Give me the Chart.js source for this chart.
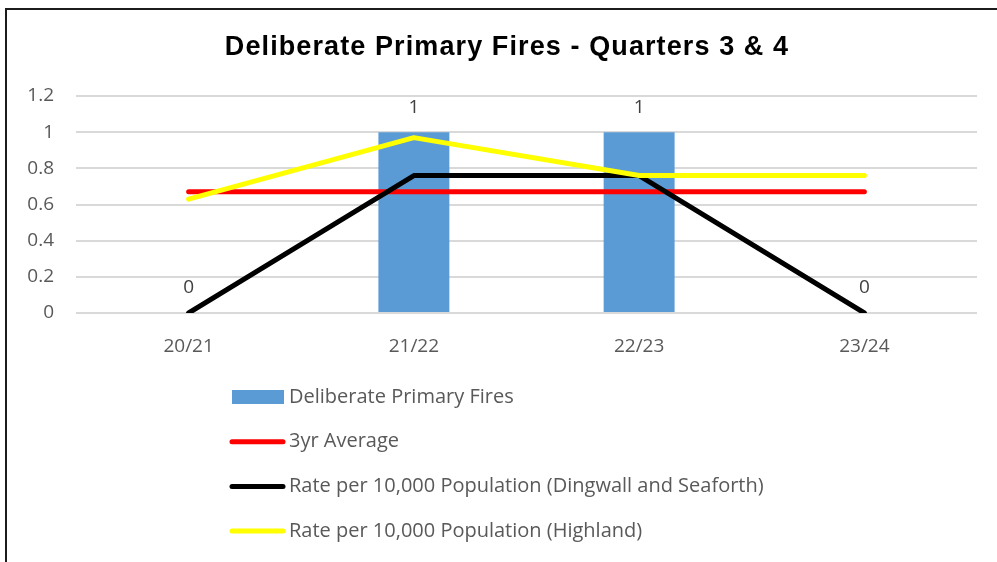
<!DOCTYPE html>
<html>
<head>
<meta charset="utf-8">
<title>Deliberate Primary Fires - Quarters 3 & 4</title>
<script src="https://cdn.jsdelivr.net/npm/chart.js@4/dist/chart.umd.min.js"></script>
<style>
    html, body { margin: 0; padding: 0; background: #fff; }
    #wrap { position: relative; width: 997px; height: 562px; overflow: hidden; }
    #frame { position: absolute; left: 5px; top: 8px; right: -10px; bottom: -10px; border-top: 2px solid #1c1c1c; border-left: 2px solid #1c1c1c; }
    canvas { position: absolute; left: 0; top: 0; }
</style>
</head>
<body>
<div id="wrap">
    <canvas id="chart" width="997" height="562"></canvas>
    <div id="frame"></div>
</div>
<script>
const titleText = 'Deliberate Primary Fires - Quarters 3 & 4';
const years = ['20/21', '21/22', '22/23', '23/24'];
const fires = [0, 1, 1, 0];
const avg3yr = [0.67, 0.67, 0.67, 0.67];
const rateDingwall = [0, 0.76, 0.76, 0];
const rateHighland = [0.63, 0.97, 0.76, 0.76];
const yTicks = [0, 0.2, 0.4, 0.6, 0.8, 1, 1.2];

const bodyFont = '"Open Sans", Carlito, Calibri, sans-serif';

// 柱子上的数值 + 标题 + 竖排图例
const extras = {
    id: 'extras',
    afterDraw(chart) {
        const ctx = chart.ctx;
        ctx.save();
        ctx.fillStyle = '#000';
        ctx.font = 'bold 27px "Liberation Sans", Arial, sans-serif';
        ctx.letterSpacing = '1.1px';
        ctx.textAlign = 'center';
        ctx.textBaseline = 'middle';
        ctx.fillText(titleText, 507, 48);
        ctx.letterSpacing = '0px';

        const barMeta = chart.getDatasetMeta(0);
        ctx.fillStyle = '#404040';
        ctx.font = '19px ' + bodyFont;
        barMeta.data.forEach((bar, i) => {
            ctx.fillText(String(fires[i]), bar.x, bar.y - 25);
        });

        ctx.textAlign = 'left';
        ctx.font = '20px ' + bodyFont;
        chart.data.datasets.forEach((ds, i) => {
            const y = 397 + i * 44.7;
            if (ds.type === 'bar') {
                ctx.fillStyle = ds.backgroundColor;
                ctx.fillRect(232, y - 7, 52, 14);
            } else {
                ctx.strokeStyle = ds.borderColor;
                ctx.lineWidth = 5;
                ctx.lineCap = 'round';
                ctx.beginPath();
                ctx.moveTo(232, y);
                ctx.lineTo(283, y);
                ctx.stroke();
            }
            ctx.fillStyle = '#595959';
            ctx.fillText(ds.label, 289, y);
        });
        ctx.restore();
    }
};

const lineStyle = {
    type: 'line',
    borderWidth: 5,
    pointRadius: 0,
    borderCapStyle: 'round',
    borderJoinStyle: 'round',
    fill: false,
    tension: 0
};

new Chart(document.getElementById('chart'), {
    data: {
        labels: years,
        datasets: [
            { type: 'bar', label: 'Deliberate Primary Fires', data: fires, backgroundColor: '#5B9BD5', barPercentage: 0.315, categoryPercentage: 1, order: 4 },
            Object.assign({ label: '3yr Average', data: avg3yr, borderColor: '#FF0000', order: 3 }, lineStyle),
            Object.assign({ label: 'Rate per 10,000 Population (Dingwall and Seaforth)', data: rateDingwall, borderColor: '#000000', order: 2 }, lineStyle),
            Object.assign({ label: 'Rate per 10,000 Population (Highland)', data: rateHighland, borderColor: '#FFFF00', order: 1 }, lineStyle)
        ]
    },
    options: {
        responsive: false,
        animation: false,
        layout: { padding: { top: 96, right: 20, bottom: 0, left: 0 } },
        plugins: {
            legend: { display: false },
            title: { display: false },
            tooltip: { enabled: false }
        },
        scales: {
            x: {
                grid: { display: false, drawTicks: false },
                border: { display: false },
                ticks: { color: '#595959', font: { family: bodyFont, size: 19 }, padding: 22 },
                afterFit(s) { s.height = 249; }
            },
            y: {
                min: 0,
                max: 1.2,
                afterBuildTicks(s) { s.ticks = yTicks.map(v => ({ value: v })); },
                grid: { color: '#d9d9d9', lineWidth: 2, drawTicks: false },
                border: { display: false },
                ticks: {
                    color: '#595959',
                    font: { family: bodyFont, size: 19 },
                    padding: 22,
                    callback: v => String(Math.round(v * 10) / 10)
                },
                afterFit(s) { s.width = 76; }
            }
        }
    },
    plugins: [extras]
});
</script>
</body>
</html>
